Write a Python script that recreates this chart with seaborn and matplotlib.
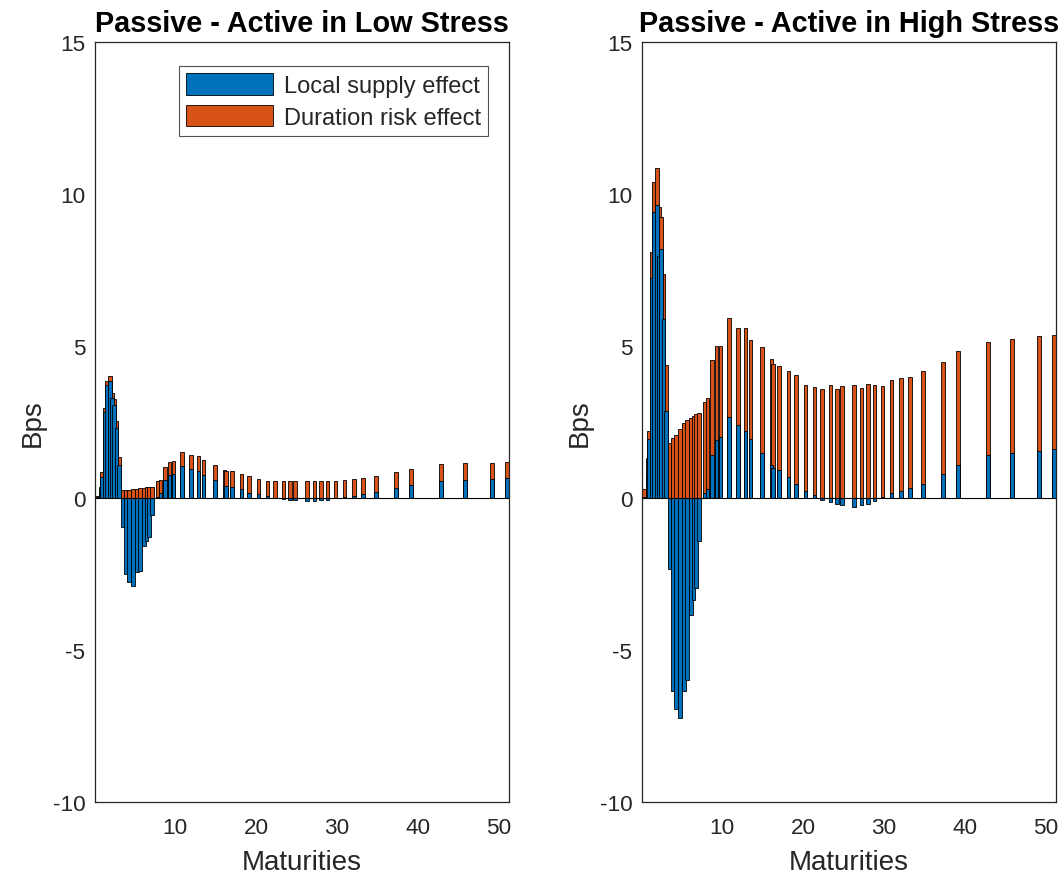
import numpy as np
import pandas as pd
import matplotlib
matplotlib.use('Agg')
import matplotlib.pyplot as plt
from matplotlib.patches import Patch
import seaborn as sns

# maturities shared by both panels (years)
maturities = [0.4, 0.8, 1.0, 1.4, 1.6, 2.0, 2.2, 2.45, 2.8, 3.1,
              3.5, 3.95, 4.3, 4.8, 5.3, 5.7, 6.15, 6.5, 6.8, 7.15,
              7.9, 8.2, 8.8, 9.3, 9.8, 10.9, 12.0, 12.9, 13.5, 14.9,
              16.1, 16.3, 17.0, 18.2, 19.1, 20.3, 21.4, 22.3, 23.4, 24.2,
              24.8, 26.3, 27.2, 28.0, 28.8, 29.8, 30.9, 32.1, 33.2, 34.8,
              37.3, 39.1, 42.8, 45.8, 49.1, 51.0]

low_local = [0.05, 0.2, 0.7, 2.83, 3.72, 3.86, 3.3, 3.05, 2.3, 1.1,
             -0.96, -2.5, -2.75, -2.88, -2.44, -2.39, -1.57, -1.4, -1.27, -0.56,
             0.05, 0.17, 0.58, 0.75, 0.8, 1.05, 0.97, 0.88, 0.77, 0.6,
             0.40, 0.38, 0.36, 0.29, 0.18, 0.12, 0.07, 0.01, -0.03, -0.05,
             -0.07, -0.09, -0.09, -0.08, -0.05, 0.0, 0.02, 0.07, 0.12, 0.2,
             0.33, 0.42, 0.57, 0.6, 0.61, 0.66]
low_duration = [0.02, 0.16, 0.15, 0.12, 0.14, 0.16, 0.15, 0.21, 0.24, 0.24,
                0.26, 0.28, 0.28, 0.29, 0.31, 0.32, 0.34, 0.35, 0.35, 0.35,
                0.5, 0.43, 0.44, 0.45, 0.42, 0.48, 0.43, 0.49, 0.49, 0.5,
                0.53, 0.52, 0.52, 0.49, 0.53, 0.49, 0.49, 0.54, 0.56, 0.55,
                0.56, 0.55, 0.55, 0.56, 0.56, 0.56, 0.58, 0.57, 0.54, 0.52,
                0.53, 0.54, 0.55, 0.54, 0.55, 0.53]

high_local = [0.02, 0.76, 1.93, 7.24, 9.41, 9.64, 7.96, 8.2, 5.89, 2.85,
              -2.33, -6.36, -6.93, -7.24, -6.36, -5.98, -3.84, -3.34, -2.96, -1.42,
              0.15, 0.3, 1.43, 1.92, 2.0, 2.66, 2.41, 2.19, 1.95, 1.49,
              1.1, 1.0, 0.91, 0.69, 0.47, 0.22, 0.1, -0.07, -0.13, -0.19,
              -0.22, -0.3, -0.24, -0.19, -0.11, 0.05, 0.16, 0.22, 0.33, 0.46,
              0.78, 1.07, 1.4, 1.49, 1.55, 1.6]
high_duration = [0.27, 0.56, 0.27, 0.86, 0.98, 1.21, 1.61, 1.05, 1.48, 1.52,
                 1.8, 1.98, 2.08, 2.27, 2.46, 2.58, 2.64, 2.7, 2.75, 2.8,
                 3.0, 2.99, 3.1, 3.07, 2.99, 3.26, 3.18, 3.4, 3.26, 3.48,
                 3.48, 3.42, 3.43, 3.48, 3.59, 3.51, 3.55, 3.6, 3.73, 3.6,
                 3.68, 3.71, 3.62, 3.74, 3.73, 3.63, 3.71, 3.74, 3.64, 3.73,
                 3.69, 3.75, 3.73, 3.73, 3.77, 3.77]

titles = ['Passive - Active in Low Stress', 'Passive - Active in High Stress']
series_names = ['Local supply effect', 'Duration risk effect']
yticks = [-10, -5, 0, 5, 10, 15]
xticks = [10, 20, 30, 40, 50]

BLUE = '#0072BD'
ORANGE = '#D95319'
AXIS = '#262626'


def draw_panel(ax, local, duration, title):
    df = pd.DataFrame({'maturity': maturities, 'local': local, 'duration': duration})
    # stacked by sign: orange sits on top of positive blue, or starts at zero
    df['top'] = df['local'].clip(lower=0) + df['duration']
    step = np.diff(np.unique(df['maturity'])).min()
    w = 0.45 / step
    common = dict(x='maturity', native_scale=True, orient='x', width=w,
                  saturation=1, edgecolor='black', linewidth=0.6,
                  errorbar=None, ax=ax)
    sns.barplot(data=df, y='top', color=ORANGE, **common)
    sns.barplot(data=df, y='local', color=BLUE, **common)
    ax.axhline(0, color='black', lw=0.8, zorder=5)

    ax.set_xlim(0.13, 51.2)
    ax.set_ylim(-10, 15)
    ax.set_xticks(xticks)
    ax.set_yticks(yticks)
    ax.tick_params(direction='in', length=4.5, width=0.8, labelsize=16.2,
                   colors=AXIS, top=False, right=False)
    ax.tick_params(axis='x', pad=11)
    ax.tick_params(axis='y', pad=7)
    for s in ax.spines.values():
        s.set_visible(True)
        s.set_color(AXIS)
        s.set_linewidth(0.9)
    ax.set_xlabel('Maturities', fontsize=20, color=AXIS, labelpad=8)
    ax.set_ylabel('Bps', fontsize=20, color=AXIS, labelpad=5)
    ax.set_title(title, fontsize=20.8, fontweight='bold', color='black', pad=8)


def main():
    sns.set_theme(style='white')
    plt.rcParams['font.family'] = ['Liberation Sans', 'DejaVu Sans']
    plt.rcParams['axes.unicode_minus'] = False

    fig = plt.figure(figsize=(10.64, 8.78), dpi=100)
    ax1 = fig.add_axes([0.0893, 0.0854, 0.389, 0.8656])
    ax2 = fig.add_axes([0.6034, 0.0854, 0.389, 0.8656])

    draw_panel(ax1, low_local, low_duration, titles[0])
    draw_panel(ax2, high_local, high_duration, titles[1])

    handles = [Patch(facecolor=BLUE, edgecolor='black', linewidth=0.6),
               Patch(facecolor=ORANGE, edgecolor='black', linewidth=0.6)]
    leg = ax1.legend(handles, series_names, loc='upper right',
                     bbox_to_anchor=(0.949, 0.968), fontsize=17,
                     handlelength=3.7, handleheight=1.05, handletextpad=0.45,
                     labelspacing=0.3, borderpad=0.3, borderaxespad=0,
                     frameon=True, fancybox=False)
    leg.get_frame().set_edgecolor(AXIS)
    leg.get_frame().set_linewidth(0.8)
    for t in leg.get_texts():
        t.set_color(AXIS)

    fig.savefig('out.png', dpi=100)
    plt.close(fig)


if __name__ == '__main__':
    main()
